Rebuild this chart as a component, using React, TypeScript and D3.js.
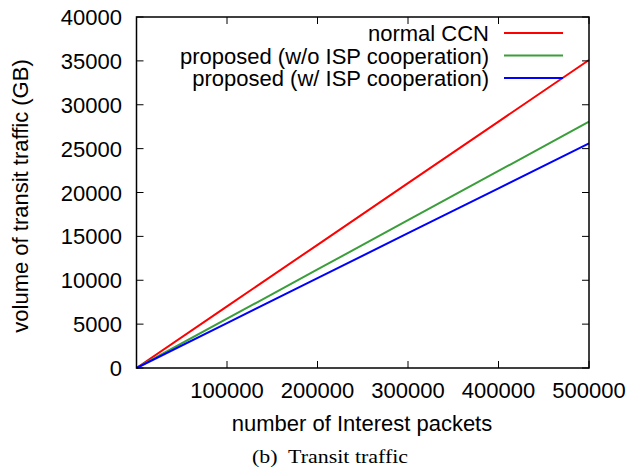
import React from "react";
import * as d3 from "d3";

const xValues = [0, 100000, 200000, 300000, 400000, 500000];
const normalCCN = [0, 7020, 14040, 21060, 28080, 35100];
const proposedWoISP = [0, 5614, 11228, 16842, 22456, 28070];
const proposedWISP = [0, 5120, 10240, 15360, 20480, 25600];
const seriesNames = ["normal CCN", "proposed (w/o ISP cooperation)", "proposed (w/ ISP cooperation)"];
const seriesColors = ["#ff0000", "#3a9e3a", "#0000ff"];
const xTicks = [100000, 200000, 300000, 400000, 500000];
const yTicks = [0, 5000, 10000, 15000, 20000, 25000, 30000, 35000, 40000];

const W = 628, H = 468;
const L = 136.5, R = 589, T = 17, B = 368;

export default function App() {
  const x = d3.scaleLinear().domain([0, 500000]).range([L, R]);
  const y = d3.scaleLinear().domain([0, 40000]).range([B, T]);
  const series = [normalCCN, proposedWoISP, proposedWISP];
  const line = d3.line<number>().x((_, i) => x(xValues[i])).y((d) => y(d));
  const font = "'Liberation Sans', Arial, Helvetica, sans-serif";
  const tl = 7;
  return (
    <svg width={W} height={H} style={{ position: "absolute", left: 0, top: 0 }}>
      <rect x={0} y={0} width={W} height={H} fill="#fff" />
      {series.map((s, i) => (
        <path key={i} d={line(s) || ""} fill="none" stroke={seriesColors[i]} strokeWidth={2} />
      ))}
      <g stroke="#000" strokeWidth={1}>
        {xTicks.map((t) => (
          <g key={t}>
            <line x1={x(t)} x2={x(t)} y1={B} y2={B - tl} />
            <line x1={x(t)} x2={x(t)} y1={T} y2={T + tl} />
          </g>
        ))}
        {yTicks.map((t) => (
          <g key={t}>
            <line x1={L} x2={L + tl} y1={y(t)} y2={y(t)} />
            <line x1={R} x2={R - tl} y1={y(t)} y2={y(t)} />
          </g>
        ))}
      </g>
      <rect x={L} y={T} width={R - L} height={B - T} fill="none" stroke="#000" strokeWidth={1.5} />
      <g fontFamily={font} fontSize={22} fill="#000">
        {xTicks.map((t) => (
          <text key={t} x={x(t)} y={398} textAnchor="middle">{t}</text>
        ))}
        {yTicks.map((t) => (
          <text key={t} x={122} y={y(t) + 8} textAnchor="end">{t}</text>
        ))}
        <text x={362} y={431} textAnchor="middle">number of Interest packets</text>
        <text transform={`translate(28,196) rotate(-90)`} textAnchor="middle">volume of transit traffic (GB)</text>
        {seriesNames.map((n, i) => (
          <g key={n}>
            <text x={489} y={33 + i * 22.5 + 8} textAnchor="end">{n}</text>
            <line x1={504} x2={563} y1={33 + i * 22.5} y2={33 + i * 22.5} stroke={seriesColors[i]} strokeWidth={2} />
          </g>
        ))}
      </g>
      <text x={252} y={463} textAnchor="start" fontFamily="'Liberation Serif', 'Times New Roman', serif" fontSize={18}
        textLength={156} lengthAdjust="spacingAndGlyphs" xmlSpace="preserve">
        (b)  Transit traffic
      </text>
    </svg>
  );
}
